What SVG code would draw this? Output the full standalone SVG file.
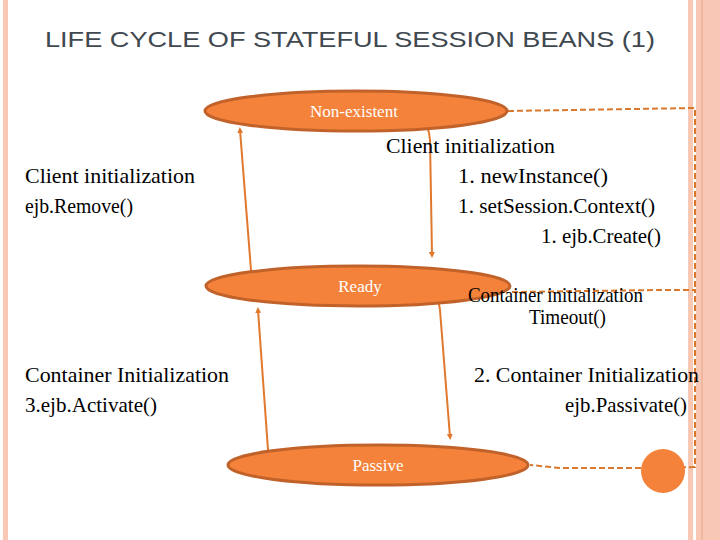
<svg xmlns="http://www.w3.org/2000/svg" width="720" height="540" viewBox="0 0 720 540">
<defs>
<style>
.st{fill:#f4823a;stroke:#c0622a;stroke-width:3}
.sl{font-family:"Liberation Serif",serif;font-size:17px;fill:#fff}
.t{font-family:"Liberation Serif",serif;font-size:21px;fill:#000}
.ar{fill:none;stroke:#e0782e;stroke-width:2;marker-end:url(#a)}
.d{fill:none;stroke:#d9772c;stroke-width:2;stroke-dasharray:6,3}
</style>
<marker id="a" viewBox="0 0 6 6" refX="3" refY="3" markerWidth="3" markerHeight="3" orient="auto"><path d="M0,0L6,3L0,6z" fill="#e0782e"/></marker>
</defs>
<rect width="720" height="540" fill="#fff"/>
<rect x="3" y="0" width="5" height="540" fill="#f8c8b4"/>
<rect x="688" y="0" width="5" height="540" fill="#f8c8b4"/>
<rect x="696" y="0" width="24" height="540" fill="#f8c8b4"/>
<line x1="702" y1="0" x2="702" y2="540" stroke="#e8a48a" stroke-width="1"/>
<text x="45" y="47" textLength="610" lengthAdjust="spacingAndGlyphs" font-family="Liberation Sans,sans-serif" font-size="22" fill="#404850">LIFE CYCLE OF STATEFUL SESSION BEANS (1)</text>
<g id="connectors">
<path class="d" d="M508,111 L695,108 L695,290"/>
<path class="d" d="M512,292 L660,290 L695,290 L695,467 L660,468 L560,468 L530,465"/>
<path class="ar" d="M402,113 Q428,112 430,140 L432,255"/>
<path class="ar" d="M268,276 Q250,280 251,270 L240,130"/>
<path class="ar" d="M423,294 Q438,292 440,310 L450,437"/>
<path class="ar" d="M285,456 Q270,462 268,450 L258,310"/>
</g>
<g id="nonexistent"><ellipse class="st" cx="356" cy="111" rx="151" ry="20"/><text class="sl" x="354" y="117" text-anchor="middle">Non-existent</text></g>
<g id="ready"><ellipse class="st" cx="358" cy="286" rx="152" ry="20"/><text class="sl" x="360" y="292" text-anchor="middle">Ready</text></g>
<g id="passive"><ellipse class="st" cx="378" cy="465" rx="150" ry="20"/><text class="sl" x="378" y="471" text-anchor="middle">Passive</text></g>
<g id="end"><circle cx="663" cy="471" r="22" fill="#f4823a"/></g>
<g id="labels">
<text class="t" x="386" y="153" textLength="169" lengthAdjust="spacingAndGlyphs">Client initialization</text>
<text class="t" x="458" y="183" textLength="150" lengthAdjust="spacingAndGlyphs">1.  newInstance()</text>
<text class="t" x="458" y="213" textLength="197" lengthAdjust="spacingAndGlyphs">1. setSession.Context()</text>
<text class="t" x="541" y="243" textLength="120" lengthAdjust="spacingAndGlyphs">1. ejb.Create()</text>
<text class="t" x="25" y="183" textLength="170" lengthAdjust="spacingAndGlyphs">Client initialization</text>
<text class="t" x="25" y="213" textLength="108" lengthAdjust="spacingAndGlyphs">ejb.Remove()</text>
<text class="t" x="468" y="302" font-size="16" textLength="175" lengthAdjust="spacingAndGlyphs">Container initialization</text>
<text class="t" x="529" y="324" font-size="16" textLength="77" lengthAdjust="spacingAndGlyphs">Timeout()</text>
<text class="t" x="25" y="382" textLength="204" lengthAdjust="spacingAndGlyphs">Container Initialization</text>
<text class="t" x="25" y="412" textLength="132" lengthAdjust="spacingAndGlyphs">3.ejb.Activate()</text>
<text class="t" x="474" y="382" textLength="225" lengthAdjust="spacingAndGlyphs">2. Container Initialization</text>
<text class="t" x="565" y="412" textLength="122" lengthAdjust="spacingAndGlyphs">ejb.Passivate()</text>
</g>
</svg>
